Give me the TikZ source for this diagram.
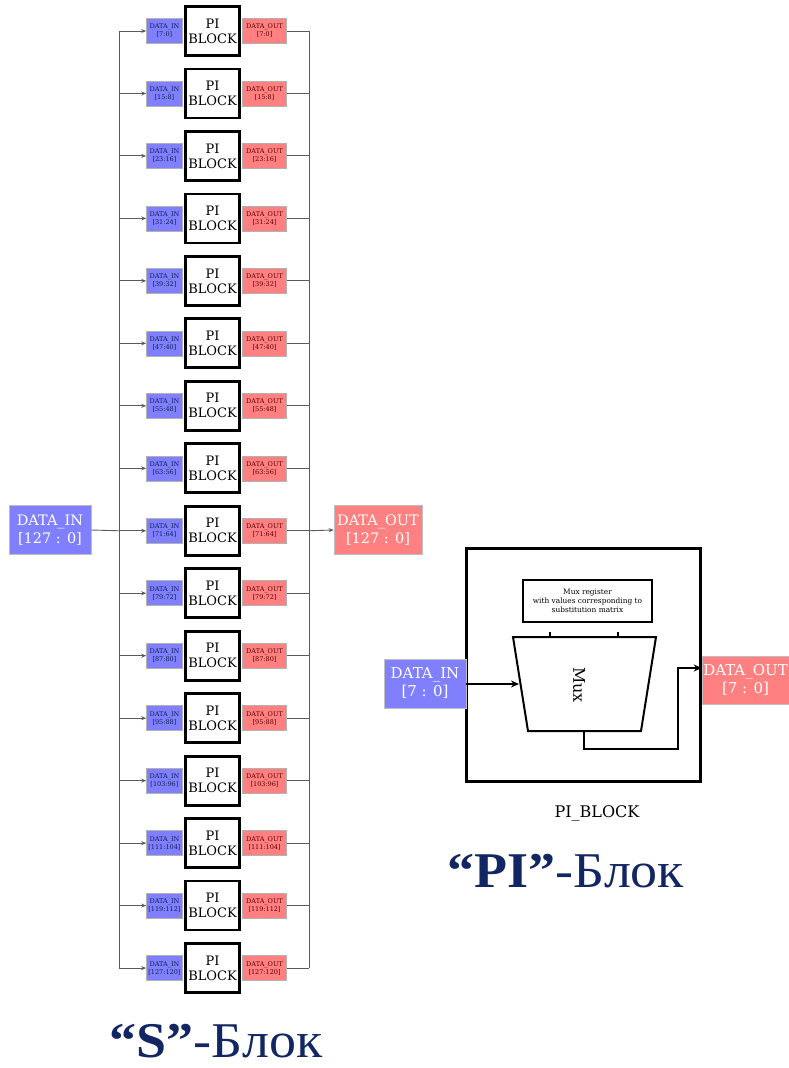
\documentclass[tikz,border=0pt]{standalone}
\usepackage{fontspec}
\setmainfont{DejaVu Serif}
\newfontfamily\titlefont{Liberation Serif}
\usetikzlibrary{arrows.meta}
\definecolor{inblue}{RGB}{128,128,255}
\definecolor{outred}{RGB}{255,128,128}
\definecolor{navy}{RGB}{18,38,100}
\definecolor{linegray}{RGB}{90,90,90}
\tikzset{
  pib/.style={draw=black, line width=2.8pt, fill=white, minimum width=54pt, minimum height=49pt, inner sep=0pt, align=center, font=\fontsize{13}{15}\selectfont},
  dinsm/.style={fill=inblue, draw=gray!60, line width=0.5pt, minimum width=36pt, minimum height=25pt, inner sep=0pt, align=center, text=navy!80!black, font=\fontsize{6.5}{8}\selectfont},
  doutsm/.style={fill=outred, draw=gray!60, line width=0.5pt, minimum width=44pt, minimum height=25pt, inner sep=0pt, align=center, text=red!35!black, font=\fontsize{6.5}{8}\selectfont},
  bigin/.style={fill=inblue, draw=gray!50, line width=0.6pt, inner sep=0pt, align=center, text=white, font=\fontsize{14.5}{18}\selectfont},
  bigout/.style={fill=outred, draw=gray!50, line width=0.6pt, inner sep=0pt, align=center, text=white, font=\fontsize{14.5}{18}\selectfont},
  conn/.style={draw=linegray, line width=0.9pt},
  connarr/.style={conn, -{Stealth[length=5pt,width=4pt]}},
  thick2/.style={draw=black, line width=2pt},
  titlestyle/.style={font=\titlefont\fontsize{50}{54}\selectfont, text=navy, anchor=base, inner sep=0pt, xscale=1.08},
}
\begin{document}
\begin{tikzpicture}[x=1pt,y=-1pt]
\useasboundingbox (0,0) rectangle (789,1068);
% ---------- S block ----------
\foreach \i in {0,...,15}{
  \pgfmathsetmacro{\yc}{31+62.47*\i}
  \pgfmathtruncatemacro{\hi}{8*\i+7}
  \pgfmathtruncatemacro{\lo}{8*\i}
  \node[pib] (pb\i) at (212.5,\yc) {PI\\BLOCK};
  \node[dinsm, anchor=east] (di\i) at ([xshift=-1.4pt]pb\i.west) {DATA\_IN\\{}[\hi:\lo]};
  \node[doutsm, anchor=west] (do\i) at ([xshift=1.4pt]pb\i.east) {DATA\_OUT\\{}[\hi:\lo]};
  \coordinate (L\i) at (119,\yc);
  \coordinate (R\i) at (309,\yc);
  \draw[connarr] (L\i) -- (di\i.west);
  \draw[conn] (do\i.east) -- (R\i);
}
\draw[conn] (L0) -- (L15);
\draw[conn] (R0) -- (R15);
\node[bigin, minimum width=82pt, minimum height=49pt] (bin) at (50,530) {DATA\_IN\\{}[127 : 0]};
\node[bigout, minimum width=88pt, minimum height=49pt] (bout) at (378,530) {DATA\_OUT\\{}[127 : 0]};
\draw[conn] (bin.east) -- (L8);
\draw[connarr] (R8) -- (bout.west);
\node[titlestyle] (stitle) at (216,1057) {\textbf{“S”}-Блок};
% ---------- PI block detail ----------
\node[draw=black, line width=3pt, minimum width=234pt, minimum height=233pt, inner sep=0pt] (outer) at (583.5,665) {};
\node[thick2, minimum width=129pt, minimum height=42pt, inner sep=0pt, align=center, font=\fontsize{7.4}{9}\selectfont] (reg) at (587.5,601) {Mux register\\with values corresponding to\\substitution matrix};
\coordinate (tl) at (513,637);
\coordinate (tr) at (656,637);
\coordinate (br) at (641,731);
\coordinate (bl) at (528,731);
\draw[thick2, line join=miter] (tl) -- (tr) -- (br) -- (bl) -- cycle;
\coordinate (t1a) at (550,632); \coordinate (t1b) at (550,638);
\coordinate (t2a) at (618,632); \coordinate (t2b) at (618,638);
\draw[thick2, line width=1.5pt] (t1a) -- (t1b);
\draw[thick2, line width=1.5pt] (t2a) -- (t2b);
\node[rotate=-90, font=\fontsize{16}{18}\selectfont] (muxt) at (579,685) {Mux};
\node[bigin, minimum width=82pt, minimum height=49pt, font=\fontsize{15}{18}\selectfont] (pin) at (425,683.5) {DATA\_IN\\{}[7 : 0]};
\node[bigout, minimum width=87pt, minimum height=48pt, font=\fontsize{15}{18}\selectfont] (pout) at (745.5,680) {DATA\_OUT\\{}[7 : 0]};
\coordinate (muxin) at (519,684);
\draw[thick2, -{Stealth[length=8pt,width=7pt]}] (pin.east |- muxin) -- (muxin);
\coordinate (mo) at (584,731);
\coordinate (mo2) at (584,749);
\coordinate (mo3) at (678,749);
\coordinate (mo4) at (678,668);
\draw[thick2, -{Stealth[length=8pt,width=7pt]}] (mo) -- (mo2) -- (mo3) -- (mo4) -- (mo4 -| pout.west);
\node[font=\fontsize{16}{18}\selectfont, anchor=base, inner sep=0pt] (plabel) at (597,817) {PI\_BLOCK};
\node[titlestyle] (ptitle) at (566,887) {\textbf{“PI”}-Блок};
\end{tikzpicture}
\end{document}
